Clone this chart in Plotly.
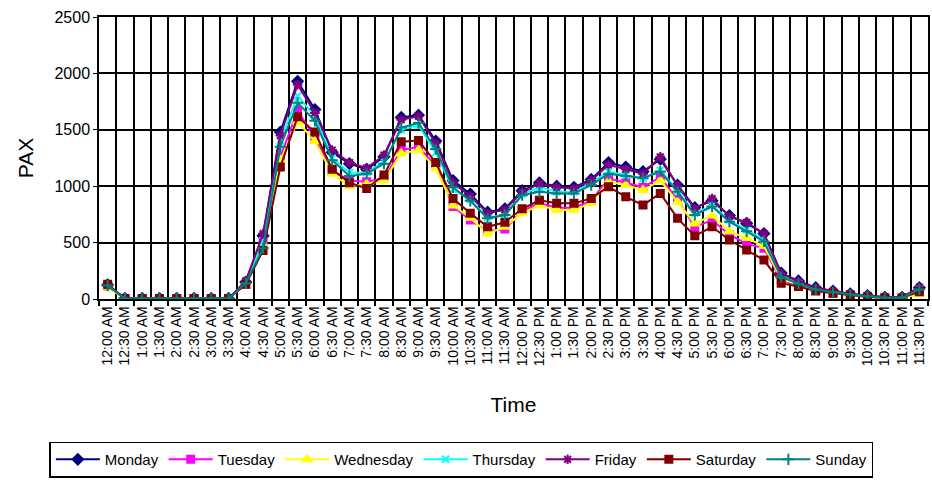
import plotly.graph_objects as go

times = ["12:00 AM", "12:30 AM", "1:00 AM", "1:30 AM", "2:00 AM", "2:30 AM", "3:00 AM", "3:30 AM",
         "4:00 AM", "4:30 AM", "5:00 AM", "5:30 AM", "6:00 AM", "6:30 AM", "7:00 AM", "7:30 AM",
         "8:00 AM", "8:30 AM", "9:00 AM", "9:30 AM", "10:00 AM", "10:30 AM", "11:00 AM", "11:30 AM",
         "12:00 PM", "12:30 PM", "1:00 PM", "1:30 PM", "2:00 PM", "2:30 PM", "3:00 PM", "3:30 PM",
         "4:00 PM", "4:30 PM", "5:00 PM", "5:30 PM", "6:00 PM", "6:30 PM", "7:00 PM", "7:30 PM",
         "8:00 PM", "8:30 PM", "9:00 PM", "9:30 PM", "10:00 PM", "10:30 PM", "11:00 PM", "11:30 PM"]

monday = [125, 5, 5, 5, 5, 5, 5, 5, 150, 560, 1480, 1930, 1680, 1300, 1200, 1150,
          1260, 1610, 1630, 1400, 1050, 930, 770, 800, 960, 1030, 1000, 990, 1060, 1210, 1170, 1130,
          1240, 1010, 810, 870, 740, 670, 580, 230, 160, 100, 70, 45, 30, 15, 15, 100]
tuesday = [110, 5, 5, 5, 5, 5, 5, 5, 130, 500, 1260, 1670, 1430, 1140, 1050, 1040,
           1070, 1320, 1350, 1180, 820, 700, 600, 620, 780, 850, 810, 810, 870, 1070, 1030, 990,
           1080, 880, 640, 700, 570, 490, 450, 170, 120, 75, 50, 35, 20, 5, 5, 60]
wednesday = [100, 5, 5, 5, 5, 5, 5, 5, 130, 480, 1230, 1570, 1400, 1110, 1000, 1020,
             1050, 1290, 1320, 1160, 830, 720, 580, 640, 760, 830, 790, 790, 850, 1040, 1010, 965,
             1050, 860, 670, 740, 600, 540, 470, 180, 125, 80, 55, 35, 20, 5, 5, 45]
thursday = [120, 5, 5, 5, 5, 5, 5, 5, 140, 520, 1400, 1800, 1620, 1250, 1120, 1120,
            1220, 1500, 1540, 1300, 970, 880, 720, 750, 930, 990, 950, 950, 1030, 1130, 1100, 1070,
            1140, 960, 760, 830, 700, 610, 530, 200, 140, 90, 60, 40, 25, 10, 10, 90]
friday = [120, 5, 5, 5, 5, 5, 5, 5, 160, 580, 1450, 1900, 1650, 1320, 1210, 1160,
          1275, 1590, 1620, 1380, 1030, 910, 760, 790, 950, 1020, 990, 980, 1050, 1190, 1150, 1110,
          1260, 1000, 800, 890, 730, 680, 580, 225, 155, 95, 70, 45, 30, 15, 15, 105]
saturday = [130, 5, 5, 5, 5, 5, 5, 5, 130, 430, 1170, 1615, 1480, 1150, 1030, 980,
            1100, 1395, 1405, 1210, 890, 760, 640, 680, 800, 875, 848, 848, 892, 995, 906, 833,
            936, 715, 560, 640, 523, 434, 345, 140, 110, 70, 50, 35, 20, 10, 10, 65]
sunday = [120, 5, 5, 5, 5, 5, 5, 5, 140, 450, 1350, 1740, 1580, 1230, 1090, 1110,
          1200, 1520, 1560, 1330, 990, 870, 715, 745, 920, 950, 935, 935, 1010, 1110, 1090, 1070,
          1130, 950, 745, 820, 685, 600, 510, 195, 135, 85, 60, 40, 25, 10, 10, 85]

series = [
    ("Monday", monday, "#000080", "diamond", 8),
    ("Tuesday", tuesday, "#FF00FF", "square", 7),
    ("Wednesday", wednesday, "#FFFF00", "triangle-up", 8),
    ("Thursday", thursday, "#00FFFF", "x-thin", 7),
    ("Friday", friday, "#800080", "asterisk", 8),
    ("Saturday", saturday, "#800000", "square", 7),
    ("Sunday", sunday, "#008080", "cross-thin", 8),
]

fig = go.Figure()
for name, vals, color, sym, size in series:
    fig.add_trace(go.Scatter(
        x=times, y=vals, name=name, mode="lines+markers",
        line=dict(color=color, width=2),
        marker=dict(symbol=sym, size=size, color=color,
                    line=dict(color=color, width=2)),
    ))

fig.update_layout(
    width=932, height=481,
    margin=dict(l=99, r=4, t=17, b=182),
    paper_bgcolor="white", plot_bgcolor="white",
    font=dict(family="Liberation Sans, Arial, sans-serif", color="black"),
    showlegend=True,
    legend=dict(
        orientation="h", xref="container", yref="container",
        x=0.495, xanchor="center", y=0.082, yanchor="top",
        bordercolor="black", borderwidth=1.5,
        font=dict(size=15, family="Liberation Sans Narrow, Liberation Sans, Arial"),
        itemwidth=44, tracegroupgap=0,
    ),
)
fig.update_xaxes(
    type="category", tickson="boundaries", tickangle=-90, automargin=False,
    tickfont=dict(size=14), ticks="outside", ticklen=5, tickcolor="black", tickwidth=1.5,
    showgrid=True, gridcolor="black", gridwidth=1.5,
    showline=True, linecolor="black", linewidth=1.5, mirror=True,
    title=dict(text="Time", font=dict(size=21), standoff=32),
    range=[-0.5, 47.5],
)
fig.update_yaxes(
    range=[0, 2500], dtick=500, tickfont=dict(size=16), automargin=False,
    ticks="outside", ticklen=4, tickcolor="black",
    showgrid=True, gridcolor="black", gridwidth=1.5,
    showline=True, linecolor="black", linewidth=1.5, mirror=True,
    zeroline=False,
    title=dict(text="PAX", font=dict(size=21), standoff=15),
)

fig.write_html("out.html", config={"displayModeBar": False},
               post_script="document.body.style.margin='0';")
